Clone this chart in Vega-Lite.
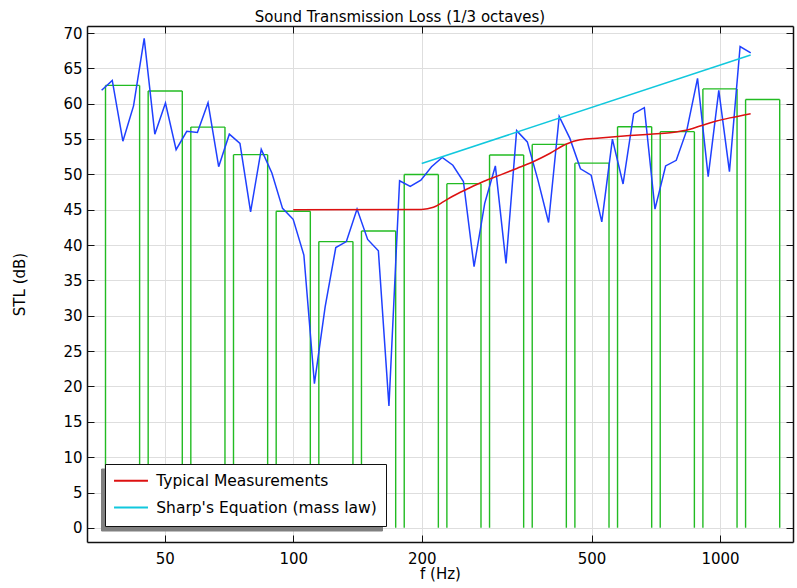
{
  "$schema": "https://vega.github.io/schema/vega-lite/v6.json",
  "width": 706,
  "height": 516,
  "autosize": {"type": "none"},
  "padding": {"left": 87, "top": 26, "right": 4, "bottom": 46},
  "background": "white",
  "title": {"text": "Sound Transmission Loss (1/3 octaves)", "font": "DejaVu Sans", "fontSize": 15, "fontWeight": "normal", "color": "black", "anchor": "middle", "dx": -40, "baseline": "alphabetic", "offset": -11},
  "config": {
    "view": {"stroke": null},
    "font": "DejaVu Sans",
    "axis": {"domainColor": "#111", "domainWidth": 1.5, "tickColor": "#111", "tickWidth": 1, "labelFont": "DejaVu Sans", "labelFontSize": 15, "labelColor": "black", "titleFont": "DejaVu Sans", "titleFontSize": 15, "titleFontWeight": "normal", "titleColor": "black", "gridColor": "#dedede", "gridWidth": 1}
  },
  "datasets": {
    "bands": [
      {"fc": 40, "lo": 36.31, "hi": 43.65, "stl": 62.6},
      {"fc": 50, "lo": 45.71, "hi": 54.95, "stl": 61.8},
      {"fc": 63, "lo": 57.54, "hi": 69.18, "stl": 56.7},
      {"fc": 80, "lo": 72.44, "hi": 87.1, "stl": 52.8},
      {"fc": 100, "lo": 91.2, "hi": 109.65, "stl": 44.8},
      {"fc": 125, "lo": 114.8, "hi": 138.0, "stl": 40.5},
      {"fc": 160, "lo": 144.5, "hi": 173.8, "stl": 42.0},
      {"fc": 200, "lo": 182.0, "hi": 218.8, "stl": 50.0},
      {"fc": 250, "lo": 229.1, "hi": 275.4, "stl": 48.7},
      {"fc": 315, "lo": 288.4, "hi": 346.7, "stl": 52.75},
      {"fc": 400, "lo": 363.1, "hi": 436.5, "stl": 54.25},
      {"fc": 500, "lo": 457.1, "hi": 549.5, "stl": 51.6},
      {"fc": 630, "lo": 575.4, "hi": 691.8, "stl": 56.75},
      {"fc": 800, "lo": 724.4, "hi": 871.0, "stl": 56.05},
      {"fc": 1000, "lo": 912.0, "hi": 1096.5, "stl": 62.1},
      {"fc": 1250, "lo": 1148.2, "hi": 1380.4, "stl": 60.6}
    ],
    "stl": [
      {"f": 35.56, "stl": 61.9}, {"f": 37.66, "stl": 63.3}, {"f": 39.88, "stl": 54.7}, {"f": 42.24, "stl": 59.7},
      {"f": 44.74, "stl": 69.25}, {"f": 47.38, "stl": 55.7}, {"f": 50.18, "stl": 60.1}, {"f": 53.15, "stl": 53.5},
      {"f": 56.29, "stl": 56.1}, {"f": 59.62, "stl": 55.95}, {"f": 63.14, "stl": 60.15}, {"f": 66.87, "stl": 51.1},
      {"f": 70.83, "stl": 55.7}, {"f": 75.01, "stl": 54.4}, {"f": 79.44, "stl": 44.7}, {"f": 84.14, "stl": 53.55},
      {"f": 89.11, "stl": 50.2}, {"f": 94.38, "stl": 45.2}, {"f": 99.96, "stl": 43.65}, {"f": 105.9, "stl": 38.6},
      {"f": 112.1, "stl": 20.4}, {"f": 118.8, "stl": 31.3}, {"f": 125.8, "stl": 39.65}, {"f": 133.2, "stl": 40.5},
      {"f": 141.1, "stl": 45.1}, {"f": 149.4, "stl": 40.8}, {"f": 158.3, "stl": 39.2}, {"f": 167.6, "stl": 17.25},
      {"f": 177.5, "stl": 49.1}, {"f": 188.0, "stl": 48.3}, {"f": 199.1, "stl": 49.2}, {"f": 210.9, "stl": 51.1},
      {"f": 223.4, "stl": 52.4}, {"f": 236.6, "stl": 51.3}, {"f": 250.5, "stl": 49.0}, {"f": 265.3, "stl": 36.95},
      {"f": 281.0, "stl": 45.9}, {"f": 297.6, "stl": 51.2}, {"f": 315.2, "stl": 37.4}, {"f": 333.8, "stl": 56.2},
      {"f": 353.6, "stl": 54.6}, {"f": 374.5, "stl": 49.2}, {"f": 396.6, "stl": 43.2}, {"f": 420.0, "stl": 58.2},
      {"f": 444.9, "stl": 55.1}, {"f": 471.1, "stl": 50.8}, {"f": 499.0, "stl": 49.9}, {"f": 528.5, "stl": 43.3},
      {"f": 559.7, "stl": 55.0}, {"f": 592.8, "stl": 48.65}, {"f": 627.8, "stl": 58.6}, {"f": 664.9, "stl": 59.45},
      {"f": 704.2, "stl": 45.1}, {"f": 745.8, "stl": 51.2}, {"f": 789.9, "stl": 52.0}, {"f": 836.5, "stl": 56.3},
      {"f": 886.0, "stl": 63.6}, {"f": 938.4, "stl": 49.7}, {"f": 993.7, "stl": 61.9}, {"f": 1052.5, "stl": 50.4},
      {"f": 1114.7, "stl": 68.1}, {"f": 1180.6, "stl": 67.2}
    ],
    "curves": [
      {"series": "Typical Measurements", "f": 100, "stl": 45.0},
      {"series": "Typical Measurements", "f": 200, "stl": 45.05},
      {"series": "Typical Measurements", "f": 213, "stl": 45.35},
      {"series": "Typical Measurements", "f": 225, "stl": 46.15},
      {"series": "Typical Measurements", "f": 237, "stl": 46.95},
      {"series": "Typical Measurements", "f": 255, "stl": 47.9},
      {"series": "Typical Measurements", "f": 279, "stl": 49.0},
      {"series": "Typical Measurements", "f": 305, "stl": 49.9},
      {"series": "Typical Measurements", "f": 334, "stl": 50.85},
      {"series": "Typical Measurements", "f": 365, "stl": 51.8},
      {"series": "Typical Measurements", "f": 400, "stl": 53.0},
      {"series": "Typical Measurements", "f": 437, "stl": 54.3},
      {"series": "Typical Measurements", "f": 470, "stl": 54.9},
      {"series": "Typical Measurements", "f": 523, "stl": 55.15},
      {"series": "Typical Measurements", "f": 615, "stl": 55.5},
      {"series": "Typical Measurements", "f": 686, "stl": 55.7},
      {"series": "Typical Measurements", "f": 764, "stl": 55.9},
      {"series": "Typical Measurements", "f": 851, "stl": 56.4},
      {"series": "Typical Measurements", "f": 898, "stl": 56.85},
      {"series": "Typical Measurements", "f": 982, "stl": 57.55},
      {"series": "Typical Measurements", "f": 1055, "stl": 58.0},
      {"series": "Typical Measurements", "f": 1180, "stl": 58.6},
      {"series": "Sharp's Equation (mass law)", "f": 200, "stl": 51.55},
      {"series": "Sharp's Equation (mass law)", "f": 1180, "stl": 66.9}
    ]
  },
  "resolve": {"axis": {"x": "independent", "y": "independent"}},
  "layer": [
    {
      "data": {"name": "bands"},
      "mark": {"type": "rule", "color": "#22bb22", "strokeWidth": 1.4},
      "encoding": {
        "x": {"field": "lo", "type": "quantitative", "scale": {"type": "log", "domain": [32.86, 1483], "nice": false},
          "axis": {"orient": "bottom", "values": [50, 100, 200, 500, 1000], "format": "d", "grid": true, "tickSize": -7, "labelPadding": 16, "labelFlush": false, "title": "f (Hz)", "titlePadding": 0}},
        "y": {"field": "stl", "type": "quantitative", "scale": {"domain": [-2, 71], "nice": false, "zero": false},
          "axis": {"orient": "left", "values": [0, 5, 10, 15, 20, 25, 30, 35, 40, 45, 50, 55, 60, 65, 70], "grid": true, "tickSize": -7, "labelPadding": 12, "title": "STL (dB)", "titlePadding": 35}},
        "y2": {"datum": 0}
      }
    },
    {
      "data": {"name": "bands"},
      "mark": {"type": "rule", "color": "#22bb22", "strokeWidth": 1.4},
      "encoding": {
        "x": {"field": "hi", "type": "quantitative", "axis": null},
        "y": {"field": "stl", "type": "quantitative", "axis": null},
        "y2": {"datum": 0}
      }
    },
    {
      "data": {"name": "bands"},
      "mark": {"type": "rule", "color": "#22bb22", "strokeWidth": 1.4},
      "encoding": {
        "x": {"field": "lo", "type": "quantitative", "axis": null},
        "x2": {"field": "hi"},
        "y": {"field": "stl", "type": "quantitative", "axis": null}
      }
    },
    {
      "data": {"name": "stl"},
      "mark": {"type": "line", "color": "#1f40ff", "strokeWidth": 1.5},
      "encoding": {
        "x": {"field": "f", "type": "quantitative",
          "axis": {"orient": "top", "values": [50, 100, 200, 500, 1000], "labels": false, "grid": false, "tickSize": -7, "title": null}},
        "y": {"field": "stl", "type": "quantitative",
          "axis": {"orient": "right", "values": [0, 5, 10, 15, 20, 25, 30, 35, 40, 45, 50, 55, 60, 65, 70], "labels": false, "grid": false, "tickSize": -7, "title": null}}
      }
    },
    {
      "data": {"name": "curves"},
      "mark": {"type": "line", "strokeWidth": 1.5, "interpolate": "monotone"},
      "encoding": {
        "x": {"field": "f", "type": "quantitative", "axis": null},
        "y": {"field": "stl", "type": "quantitative", "axis": null},
        "color": {"field": "series", "type": "nominal",
          "scale": {"domain": ["Typical Measurements", "Sharp's Equation (mass law)"], "range": ["#dd1111", "#11c8dd"]},
          "legend": {"title": null, "orient": "none", "legendX": 18, "legendY": 438, "direction": "vertical", "fillColor": "white", "strokeColor": "#111", "padding": 9, "symbolType": "M-3,0H3", "symbolSize": 128, "symbolStrokeWidth": 2, "symbolOffset": 9.25, "labelFont": "DejaVu Sans", "labelFontSize": 15.5, "labelColor": "black", "labelOffset": 17.5, "labelLimit": 400, "rowPadding": 9.8, "zindex": 3}}
      }
    },
    {
      "data": {"name": "curves"},
      "mark": {"type": "point", "opacity": 0},
      "encoding": {
        "x": {"field": "f", "type": "quantitative", "axis": null},
        "y": {"field": "stl", "type": "quantitative", "axis": null},
        "fill": {"field": "series", "type": "nominal",
          "scale": {"range": ["#808080", "#808080"]},
          "legend": {"title": null, "orient": "none", "legendX": 14, "legendY": 442.5, "direction": "vertical", "fillColor": "#808080", "strokeColor": "#808080", "padding": 9, "symbolType": "M-3,0H3", "symbolSize": 128, "symbolStrokeWidth": 2, "symbolOffset": 9.25, "symbolOpacity": 0, "labelFont": "DejaVu Sans", "labelFontSize": 15.5, "labelOpacity": 0, "labelOffset": 17.5, "labelLimit": 400, "rowPadding": 9.8, "zindex": 2}}
      }
    }
  ]
}
